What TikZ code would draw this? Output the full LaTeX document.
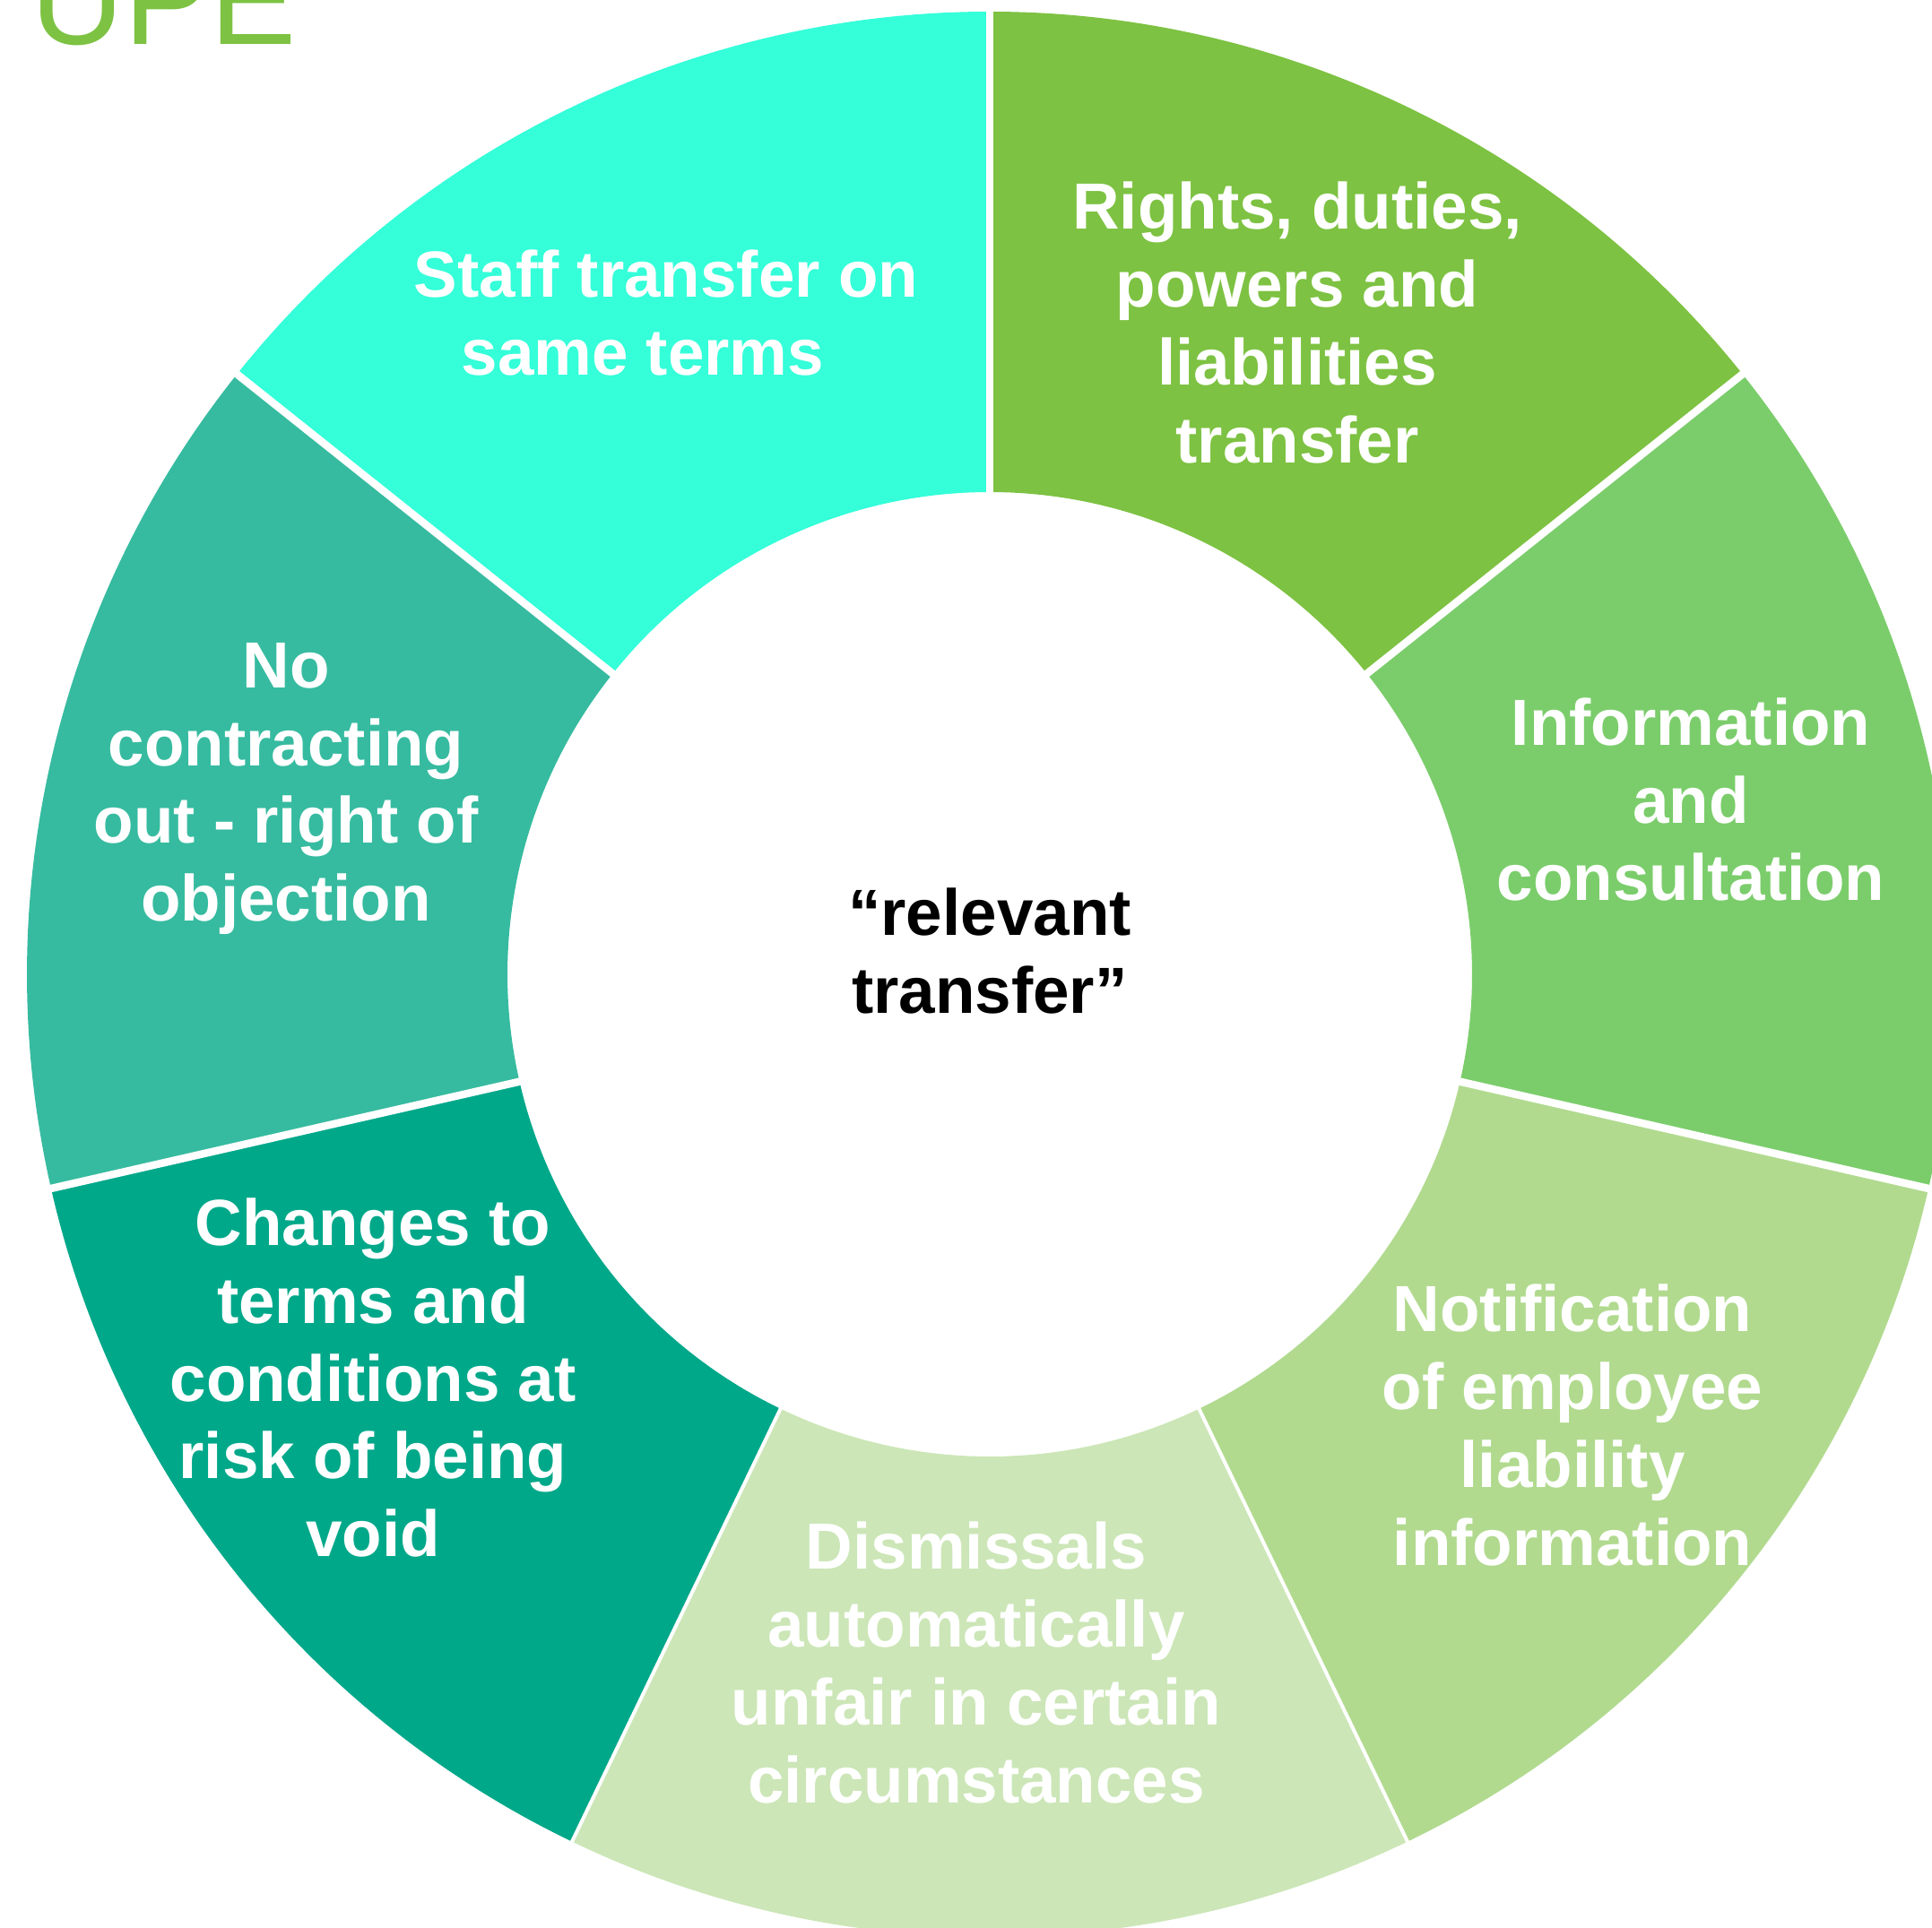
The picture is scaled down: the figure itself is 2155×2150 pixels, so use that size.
\documentclass[tikz,border=0pt]{standalone}
\usepackage{fontspec}
\setmainfont{Liberation Sans}
\begin{document}
\definecolor{cRights}{HTML}{7DC242}
\definecolor{cInfo}{HTML}{7BCD6B}
\definecolor{cNotif}{HTML}{B1DA8F}
\definecolor{cDismiss}{HTML}{CCE6B7}
\definecolor{cChanges}{HTML}{00A88A}
\definecolor{cNoContract}{HTML}{36BBA0}
\definecolor{cStaff}{HTML}{34FFD9}
\begin{tikzpicture}[x=0.01cm,y=0.01cm,
  seglabel/.style={text=white, align=center, inner sep=0pt,
    font=\fontsize{20.7}{24.7}\selectfont\bfseries},
  gapline/.style={white, line width=0.085cm},
  thingap/.style={white, line width=0.04cm}]
\useasboundingbox (0,0) rectangle (2155,2150);
\clip (0,0) rectangle (2155,2150);
\def\ri{538}
\def\ro{1074}
% ring segments, clockwise from the top
\begin{scope}[shift={(1104,1063)}]
  \foreach \a/\b/\col in {90/38.571/cRights, 38.571/-12.857/cInfo,
      -12.857/-64.286/cNotif, -64.286/-115.714/cDismiss,
      -115.714/-167.143/cChanges, -167.143/-218.571/cNoContract,
      -218.571/-270/cStaff}{
    \fill[\col] (\a:\ri) arc[start angle=\a, end angle=\b, radius=\ri]
      -- (\b:\ro) arc[start angle=\b, end angle=\a, radius=\ro] -- cycle;
  }
  % white separators between segments
  \foreach \a in {90, 38.571, -12.857, -167.143, -218.571}{
    \draw[gapline] (\a:\ri-20) -- (\a:\ro+40);
  }
  \foreach \a in {-64.286, -115.714}{
    \draw[thingap] (\a:\ri-20) -- (\a:\ro+40);
  }
\end{scope}
% labels
\node[seglabel] (staff) at (728,1801) {\hspace*{0.3cm}Staff transfer on\\same terms\hspace*{0.22cm}};
\node[seglabel] (rights) at (1447,1790) {Rights, duties,\\powers and\\liabilities\\transfer};
\node[seglabel] (info) at (1886,1258) {Information\\and\\consultation};
\node[seglabel] (notif) at (1754,560) {Notification\\of employee\\liability\\information};
\node[seglabel] (dismiss) at (1089,295) {Dismissals\\automatically\\unfair in certain\\circumstances};
\node[seglabel] (changes) at (416,613) {Changes to\\terms and\\conditions at\\risk of being\\void};
\node[seglabel] (nocontract) at (319,1270) {No\\contracting\\out - right of\\objection};
\node[seglabel, text=black] (centre) at (1104,1089) {“relevant\\transfer”};
% heading text running off the top edge
\node[anchor=base west, inner sep=0pt, text=cRights,
  font=\fontsize{41}{48}\selectfont] (heading) at (34,2100) {UPE};
\end{tikzpicture}
\end{document}
